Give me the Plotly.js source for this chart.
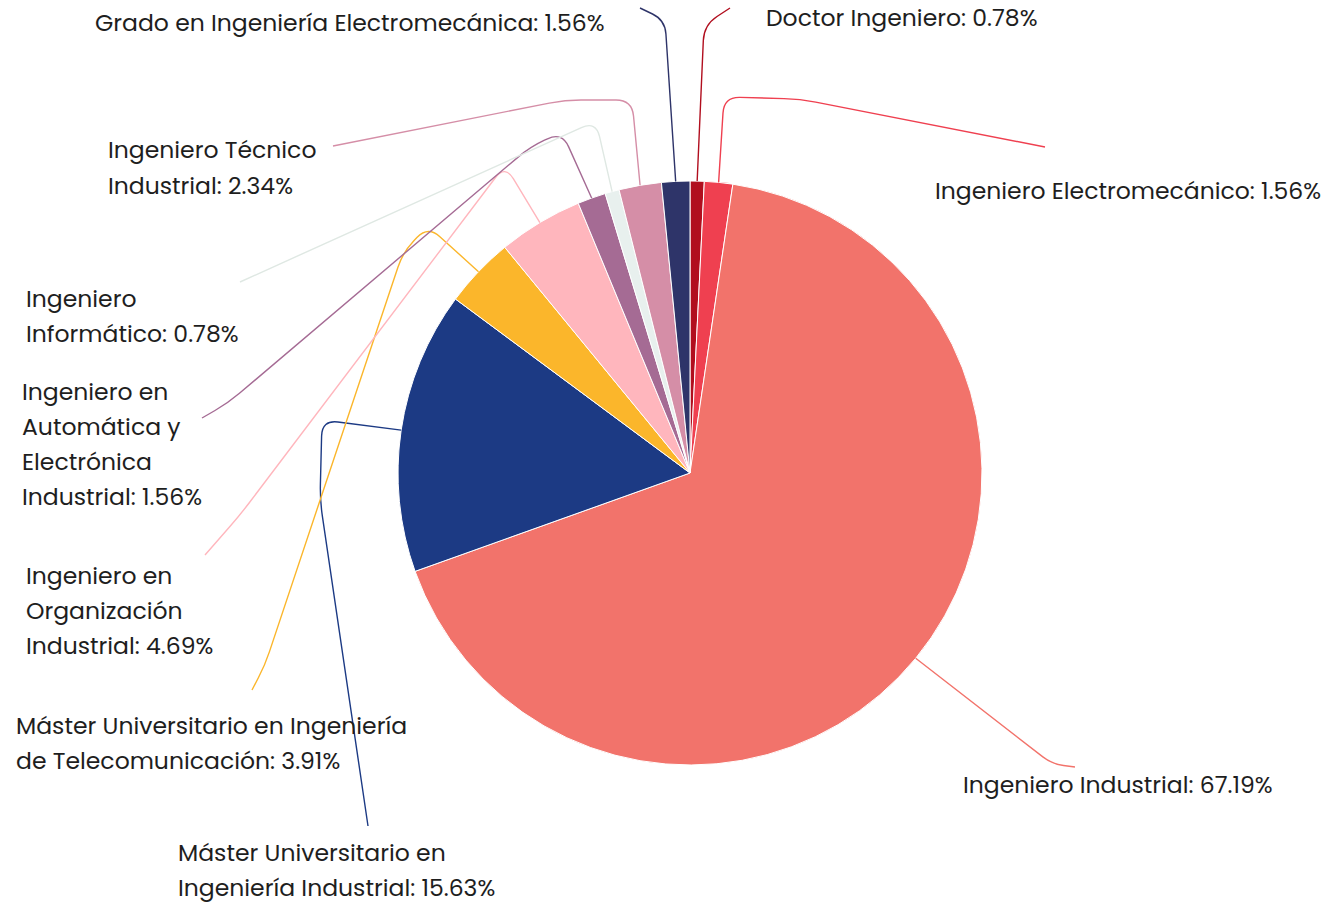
<!DOCTYPE html>
<html>
<head>
<meta charset="utf-8">
<script src="https://cdn.plot.ly/plotly-3.0.1.min.js"></script>
<style>
  html,body{margin:0;padding:0;background:#fff;}
  #chart{width:1328px;height:903px;}
</style>
</head>
<body>
<div id="chart"></div>
<script>
// data: titulaciones (clockwise from 12 o'clock)
const categories=[
  'Doctor Ingeniero',
  'Ingeniero Electromecánico',
  'Ingeniero Industrial',
  'Máster Universitario en Ingeniería Industrial',
  'Máster Universitario en Ingeniería de Telecomunicación',
  'Ingeniero en Organización Industrial',
  'Ingeniero en Automática y Electrónica Industrial',
  'Ingeniero Informático',
  'Ingeniero Técnico Industrial',
  'Grado en Ingeniería Electromecánica'
];
const counts=[1,2,86,20,5,6,2,1,3,2];
const percents=[0.78,1.56,67.19,15.63,3.91,4.69,1.56,0.78,2.34,1.56];
const colors=['#b10e1e','#ef4050','#f2736b','#1c3a84','#fbb62b','#ffb6bd','#a56b94','#e8f0ee','#d58ea7','#2e3469'];
const lineColors=['#b10e1e','#ef4050','#f2736b','#1c3a84','#fbb62b','#ffb6bd','#a56b94','#dfe8e3','#d58ea7','#2e3469'];

// label layout (pixels): left x, first line centre y, words per line, leader knees and end
const labelPos=[
  {x:766,y:17,wrap:[9],knees:[[704,25]],end:[730,8]},
  {x:935,y:190,wrap:[9],knees:[[724,97],[800,99]],end:[1045,147]},
  {x:963,y:784,wrap:[9],knees:[[1052,764]],end:[1075,767]},
  {x:178,y:852,wrap:[3,3],knees:[[322,420],[320,500]],end:[368,826]},
  {x:16,y:725,wrap:[4,3],knees:[[428,226],[403,252],[265,665]],end:[252,690]},
  {x:26,y:575,wrap:[2,1,2],knees:[[505,165],[240,515]],end:[205,555]},
  {x:22,y:391,wrap:[2,2,1,2],knees:[[562,132],[530,147],[228,403]],end:[202,418]},
  {x:26,y:298,wrap:[1,2],knees:[[596,121]],end:[240,282]},
  {x:108,y:150,wrap:[2,2],knees:[[632,100],[565,100]],end:[333,146]},
  {x:95,y:22,wrap:[9],knees:[[665,20]],end:[640,8]}
];

const W=1328,H=903;
const CX=690,CY=473,R=292;
const LINE_H=35;
const fontFam='Poppins, "Open Sans", sans-serif';

const px=x=>x/W;
const py=y=>1-y/H;

function wrapLabel(text,wrap){
  const words=text.split(' ');
  const out=[];let i=0;
  wrap.forEach(n=>{ if(i<words.length){ out.push(words.slice(i,i+n).join(' ')); i+=n; } });
  if(i<words.length) out[out.length-1]+=' '+words.slice(i).join(' ');
  return out;
}

// rounded polyline in paper coords
function leaderPath(pts){
  const r=16;
  let d=`M${px(pts[0][0])},${py(pts[0][1])}`;
  for(let i=1;i<pts.length-1;i++){
    const [ax,ay]=pts[i-1],[bx,by]=pts[i],[cx,cy]=pts[i+1];
    const l1=Math.hypot(bx-ax,by-ay),l2=Math.hypot(cx-bx,cy-by);
    const rr=Math.min(r,l1/2,l2/2);
    const p1=[bx-(bx-ax)/l1*rr,by-(by-ay)/l1*rr];
    const p2=[bx+(cx-bx)/l2*rr,by+(cy-by)/l2*rr];
    d+=` L${px(p1[0])},${py(p1[1])} Q${px(bx)},${py(by)} ${px(p2[0])},${py(p2[1])}`;
  }
  const e=pts[pts.length-1];
  d+=` L${px(e[0])},${py(e[1])}`;
  return d;
}

const total=counts.reduce((a,b)=>a+b,0);
const shapes=[],annotations=[];
let cum=0;
counts.forEach((v,i)=>{
  const mid=(cum+v/2)/total*2*Math.PI; cum+=v;
  const sx=CX+R*Math.sin(mid), sy=CY-R*Math.cos(mid);
  const lp=labelPos[i];
  shapes.push({type:'path',xref:'paper',yref:'paper',path:leaderPath([[sx,sy],...lp.knees,lp.end]),
    line:{color:lineColors[i],width:1.4},layer:'above'});
  const lines=wrapLabel(`${categories[i]}: ${percents[i]}%`,lp.wrap);
  lines.forEach((t,k)=>{
    annotations.push({xref:'paper',yref:'paper',x:px(lp.x-1),y:py(lp.y+k*LINE_H),xanchor:'left',yanchor:'middle',
      text:t,showarrow:false,align:'left',borderpad:0,font:{family:fontFam,size:23.5,color:'#1e1e1e'}});
  });
});

const trace={
  type:'pie',labels:categories,values:counts,sort:false,direction:'clockwise',rotation:0,
  marker:{colors:colors,line:{color:'#ffffff',width:1}},
  textinfo:'none',hoverinfo:'label+percent',showlegend:false,
  domain:{x:[(CX-R)/W,(CX+R)/W],y:[1-(CY+R)/H,1-(CY-R)/H]}
};

const layout={
  width:W,height:H,margin:{l:0,r:0,t:0,b:0},
  paper_bgcolor:'#fff',plot_bgcolor:'#fff',showlegend:false,
  shapes:shapes,annotations:annotations,font:{family:fontFam}
};

Plotly.newPlot('chart',[trace],layout,{displayModeBar:false,staticPlot:true});
</script>
</body>
</html>
